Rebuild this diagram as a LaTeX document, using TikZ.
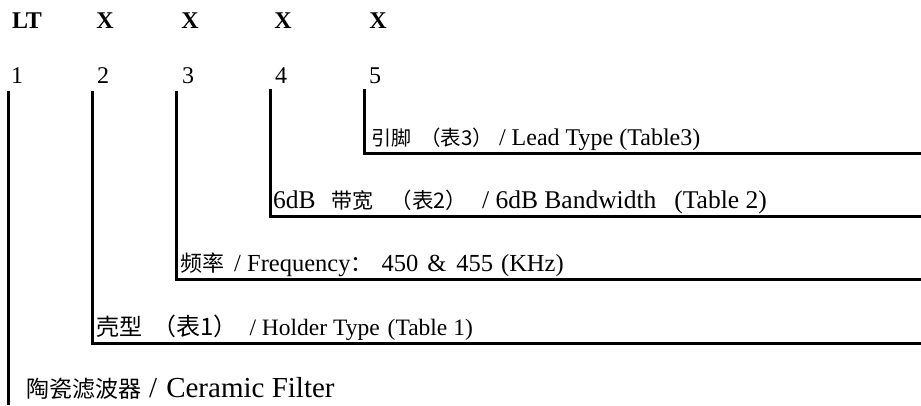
\documentclass[tikz,border=0pt]{standalone}
\usepackage{fontspec}
\setmainfont{Liberation Serif}
\newfontfamily\cjk{Noto Sans CJK SC}
\usetikzlibrary{positioning,calc}
% CJK text, optional size in pt
\newcommand{\zh}[2][21]{{\cjk\fontsize{#1}{#1}\selectfont #2}}
\newcommand{\fs}[1]{\fontsize{#1}{#1}\selectfont}
\tikzset{
  every node/.style={font=\fs{24}, inner sep=0pt},
  code/.style={font=\fs{24}\bfseries, anchor=base},
  digit/.style={anchor=base},
  lbl/.style={anchor=base west},
  rule/.style={line width=3pt, line join=miter, draw=black},
}

\begin{document}
\begin{tikzpicture}[x=1pt, y=-1pt]
\useasboundingbox (0,0) rectangle (921,405);
% code letters and positions
\node[code] (lt) at (27,28) {LT};
\node[code] (x2) at (105,28) {X};
\node[code] (x3) at (190,28) {X};
\node[code] (x4) at (283,28) {X};
\node[code] (x5) at (378,28) {X};
\node[digit] (d1) at (17,83) {1};
\node[digit] (d2) at (103,83) {2};
\node[digit] (d3) at (188,83) {3};
\node[digit] (d4) at (281,83) {4};
\node[digit] (d5) at (375,83) {5};
\coordinate (top1) at (8,91);
\coordinate (top2) at (92,91);
\coordinate (top3) at (176,91);
\coordinate (top4) at (270,89);
\coordinate (top5) at (364,89);
\coordinate (end1) at (8,405);
\coordinate (end2) at (921,343);
\coordinate (end3) at (921,279);
\coordinate (end4) at (921,216);
\coordinate (end5) at (921,153);
% labels
\node[lbl, font=\fs{24}] (lead) at (371,145)
  {\zh[20]{引脚}\hspace{9pt}\zh[20.5]{（表3）}\hspace{6pt}/ Lead Type (Table3)};
\node[lbl, font=\fs{25.5}] (bw) at (273,208)
  {6dB\hspace{16pt}\zh{带宽}\hspace{17pt}\zh[21.5]{（表2）}\hspace{15pt}/ 6dB Bandwidth\hspace{18pt}(Table 2)};
\node[lbl, font=\fs{24.5}] (freq) at (180,271)
  {\zh[22]{频率}\hspace{10pt}/ Frequency\zh[22]{：}\hspace{9pt}450\hspace{9pt}\&\hspace{10pt}455\hspace{8pt}(KHz)};
\node[lbl, font=\fs{23.5}] (holder) at (96,335)
  {\zh[23]{壳型}\hspace{10pt}\zh[24]{（表1）}\hspace{12pt}/ Holder Type\hspace{8pt}(Table 1)};
\node[lbl, font=\fs{29}] (cf) at (26,397)
  {\zh[23]{陶瓷滤波器}\hspace{8pt}/\hspace{9pt}Ceramic Filter};
% leader lines
\draw[rule] (top1) -- (end1);
\draw[rule] (top2) |- (end2);
\draw[rule] (top3) |- (end3);
\draw[rule] (top4) |- (end4);
\draw[rule] (top5) |- (end5);
\end{tikzpicture}
\end{document}
